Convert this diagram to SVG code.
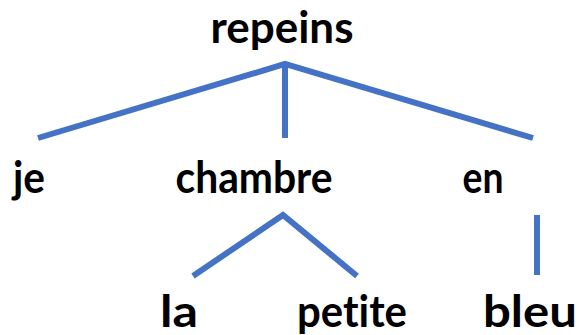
<svg xmlns="http://www.w3.org/2000/svg" width="579" height="335" viewBox="0 0 579 335">
<style>
text{font-family:Lato,"Open Sans","Liberation Sans",sans-serif;font-weight:bold;font-size:43px;fill:#000;text-anchor:middle;font-variant-ligatures:none;font-feature-settings:"liga" 0}
.c{stroke:#4472C4;stroke-width:6;fill:none;stroke-linejoin:miter}
</style>
<rect width="579" height="335" fill="#fff"/>
<g id="connectors">
<polyline class="c" points="38,138 285,64 533,138"/>
<line class="c" x1="285" y1="64" x2="285" y2="138"/>
<polyline class="c" points="193,276 283,215 357,276"/>
<line class="c" x1="537" y1="215" x2="537" y2="275"/>
</g>
<g id="repeins"><text x="282" y="43" textLength="143" lengthAdjust="spacingAndGlyphs">repeins</text></g>
<g id="je"><text x="29" y="193" textLength="32" lengthAdjust="spacingAndGlyphs">je</text></g>
<g id="chambre"><text x="254" y="193" textLength="157" lengthAdjust="spacingAndGlyphs">chambre</text></g>
<g id="en"><text x="483" y="193" textLength="41" lengthAdjust="spacingAndGlyphs">en</text></g>
<g id="la"><text x="179" y="327" textLength="38" lengthAdjust="spacingAndGlyphs">la</text></g>
<g id="petite"><text x="352" y="327" textLength="110" lengthAdjust="spacingAndGlyphs">petite</text></g>
<g id="bleu"><text x="530" y="327" textLength="94" lengthAdjust="spacingAndGlyphs">bleu</text></g>
</svg>
